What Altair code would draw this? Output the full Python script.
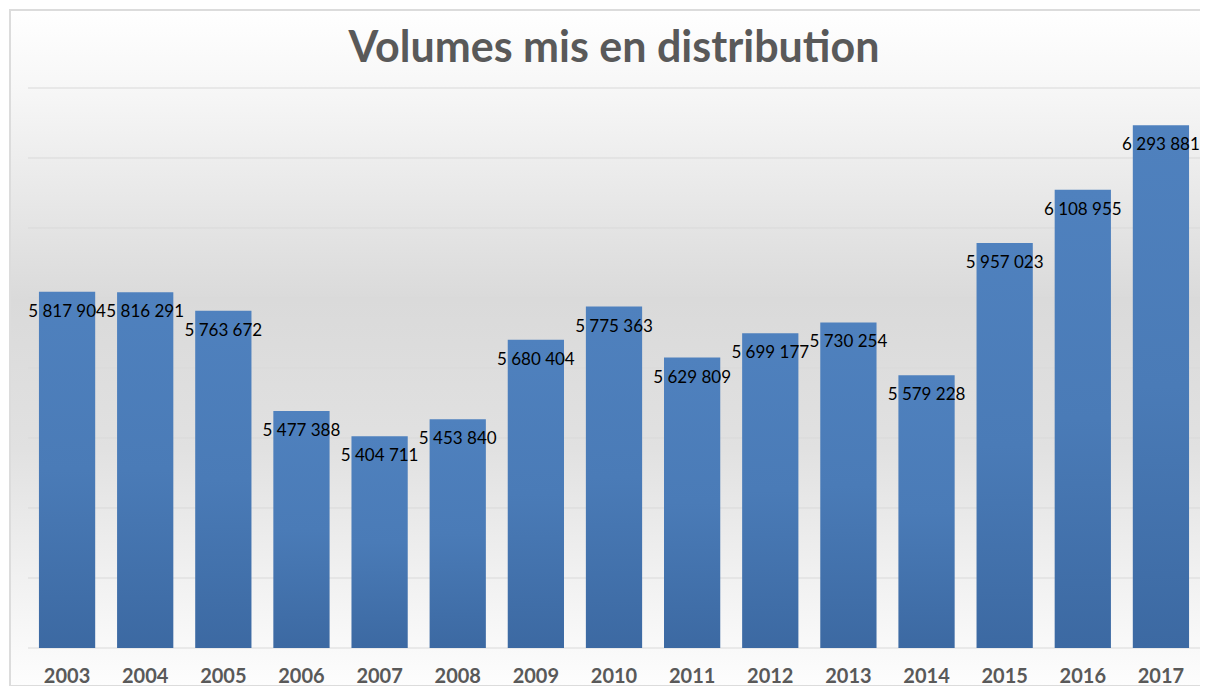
import altair as alt
import pandas as pd

years = ["2003", "2004", "2005", "2006", "2007", "2008", "2009", "2010",
         "2011", "2012", "2013", "2014", "2015", "2016", "2017"]
volumes = [5817904, 5816291, 5763672, 5477388, 5404711, 5453840, 5680404, 5775363,
           5629809, 5699177, 5730254, 5579228, 5957023, 6108955, 6293881]
grid_values = [4800000, 5000000, 5200000, 5400000, 5600000, 5800000, 6000000, 6200000, 6400000]
y_min, y_max = 4800000, 6400000
title_text = "Volumes mis en distribution"

labels = [f"{v:,}".replace(",", " ") for v in volumes]
df = pd.DataFrame({"year": years, "volume": volumes, "label": labels})
grid_df = pd.DataFrame({"g": grid_values})

W, H = 1172, 560

yscale = alt.Scale(domain=[y_min, y_max], zero=False, nice=False)
xscale = alt.Scale(paddingInner=0.28, paddingOuter=0.14)

bg = alt.Chart(alt.Data(values=[{"a": 1}])).mark_rect(
    color=alt.LinearGradient(
        gradient="linear", x1=0, x2=0, y1=0, y2=1,
        stops=[
            alt.GradientStop(offset=0.0, color="#ffffff"),
            alt.GradientStop(offset=0.115, color="#f7f7f7"),
            alt.GradientStop(offset=0.43, color="#dadada"),
            alt.GradientStop(offset=0.65, color="#e1e1e1"),
            alt.GradientStop(offset=0.84, color="#f1f1f1"),
            alt.GradientStop(offset=0.944, color="#f9f9f9"),
            alt.GradientStop(offset=1.0, color="#fdfdfd"),
        ]),
    stroke="#dcdcdc", strokeWidth=2,
).encode(
    x=alt.value(-18), x2=alt.value(W + 40),
    y=alt.value(-78), y2=alt.value(H + 38),
)

title = alt.Chart(alt.Data(values=[{"t": title_text}])).mark_text(
    font="Lato", fontSize=43, fontWeight="bold", color="#595959",
    align="center", baseline="alphabetic",
).encode(
    x=alt.value(W / 2), y=alt.value(-26), text="t:N",
)

grid = alt.Chart(grid_df).mark_rule(color="#d9d9d9", strokeWidth=1).encode(
    y=alt.Y("g:Q", scale=yscale, axis=None),
)

base = alt.Chart(df).encode(
    x=alt.X("year:N", scale=xscale, sort=years, title=None,
            axis=alt.Axis(labelFont="Lato", labelFontSize=20, labelFontWeight="bold",
                          labelColor="#595959", ticks=False, tickSize=0, domain=False,
                          grid=False, labelPadding=34, labelBaseline="alphabetic",
                          labelAngle=0, zindex=1)),
)

bars = base.mark_bar(
    color=alt.LinearGradient(
        gradient="linear", x1=0, x2=0, y1=0, y2=1,
        stops=[
            alt.GradientStop(offset=0.0, color="#4f81be"),
            alt.GradientStop(offset=0.5, color="#4a7bb7"),
            alt.GradientStop(offset=1.0, color="#3c69a2"),
        ]),
).encode(
    y=alt.Y("volume:Q", scale=yscale, axis=None),
    y2=alt.datum(y_min),
)

texts = base.mark_text(
    font="Lato", fontSize=17, color="#000000", baseline="alphabetic",
    align="center", dy=25,
).encode(
    y=alt.Y("volume:Q", scale=yscale, axis=None),
    text="label:N",
)

chart = alt.layer(bg, title, grid, bars, texts).properties(
    width=W, height=H,
    autosize=alt.AutoSizeParams(type="none"),
    padding={"left": 20, "top": 80, "right": 0, "bottom": 38},
    background="#ffffff",
).configure_view(stroke=None)

chart.save("out.html", embed_options={"renderer": "svg", "actions": False})
